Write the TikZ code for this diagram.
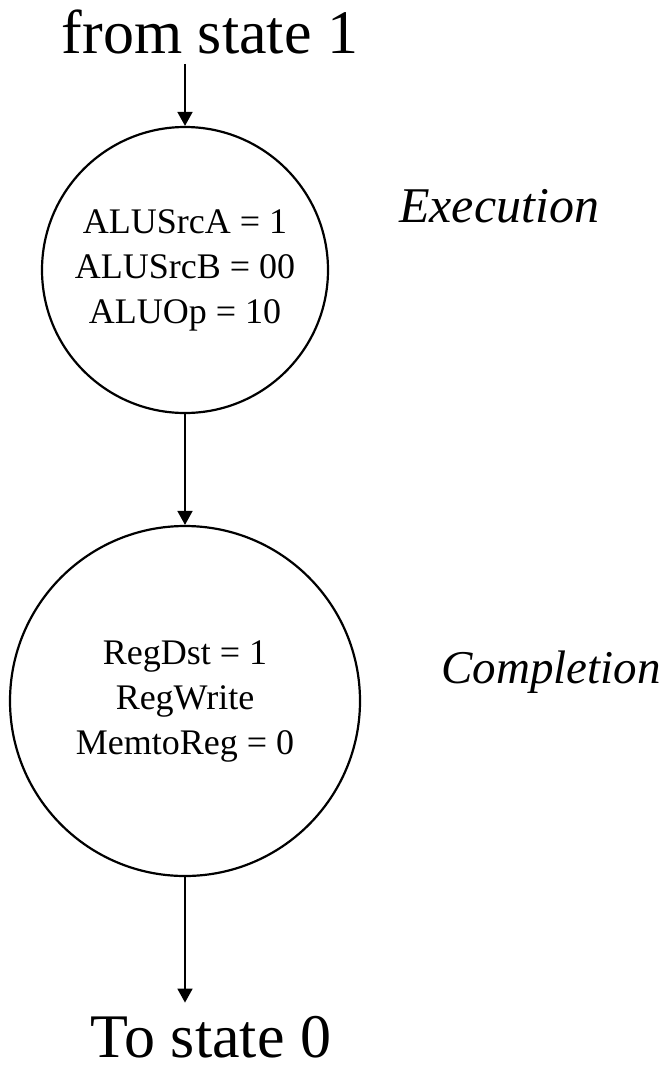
\documentclass[tikz,border=0pt]{standalone}
\usepackage{fontspec}
\setmainfont{Liberation Serif}
\usepackage{tikz}
\usetikzlibrary{arrows.meta,positioning}

\tikzset{
  state/.style={draw, circle, line width=2.2pt, inner sep=0pt, align=center,
    font=\fontsize{36}{45}\selectfont},
  bigtext/.style={inner sep=0pt, anchor=base, font=\fontsize{62}{70}\selectfont},
  phase/.style={inner sep=0pt, anchor=base, font=\fontsize{50}{56}\selectfont\itshape},
  flow/.style={-{Triangle[length=14pt, width=15pt]}, line width=1.8pt}
}

\begin{document}
\begin{tikzpicture}[x=1pt, y=-1pt]
  \useasboundingbox (0,0) rectangle (671,1066);
  %--------------- entry --------------- 
  \node[bigtext] (from) at (210,53) {from state 1};
  %--------------- state: execution --------------- 
  \node[state, minimum size=286pt] (exec) at (185,270)
    {ALUSrcA = 1\\ALUSrcB = 00\\ALUOp = 10};
  \node[phase] (execlbl) at (499,222) {Execution};
  %--------------- state: completion --------------- 
  \node[state, minimum size=350pt] (comp) at (185,701)
    {RegDst = 1\\RegWrite\\MemtoReg = 0};
  \node[phase, font=\fontsize{47}{54}\selectfont\itshape] (complbl) at (551,683) {Completion};
  %--------------- exit --------------- 
  \node[bigtext] (to) at (211,1057) {To state 0};

  %--------------- arrows --------------- 
  % from -> exec
  \draw[flow, shorten <=10pt] (exec |- from.south) -- (exec);
  % exec -> comp
  \draw[flow] (exec) -- (comp);
  % comp -> to
  \draw[flow, shorten >=13pt] (comp) -- (comp |- to.north);
\end{tikzpicture}
\end{document}
